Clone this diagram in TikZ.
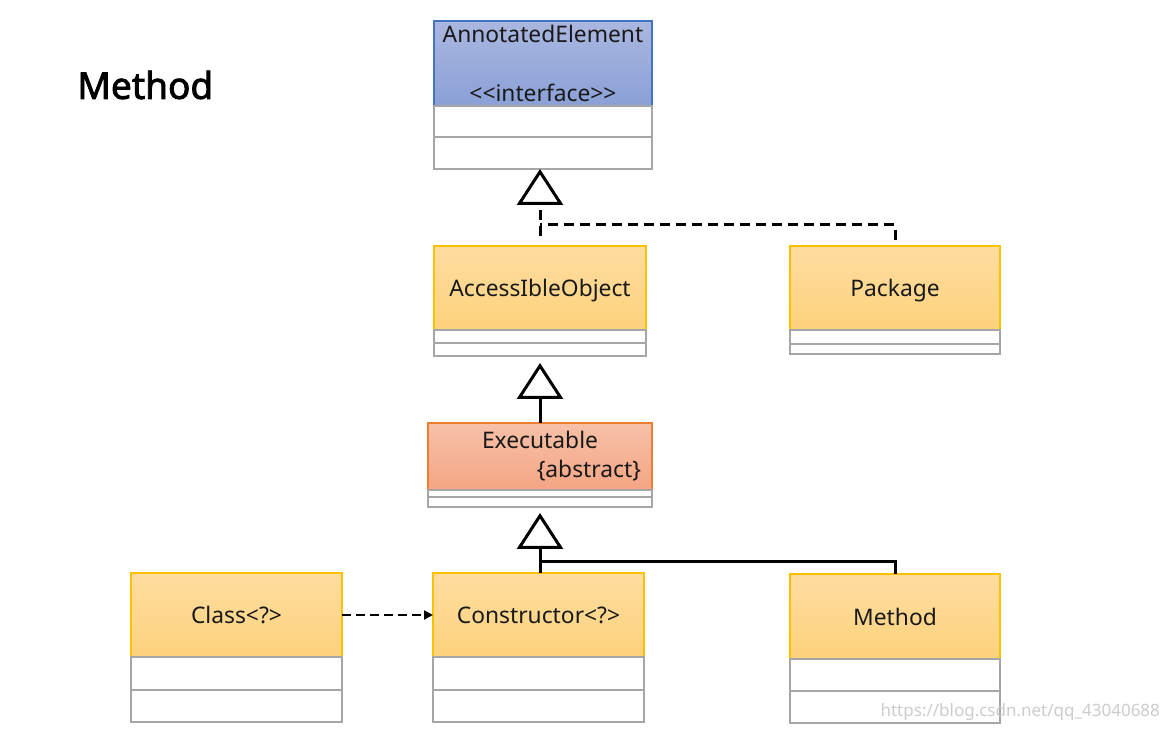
\documentclass[tikz,border=0pt]{standalone}
\usepackage{fontspec}
\setmainfont{Noto Sans}
\newfontfamily\titlefont{Noto Sans}[FakeBold=2.2]
\usetikzlibrary{positioning,arrows.meta}

\definecolor{otop}{HTML}{FEDDA0}
\definecolor{obot}{HTML}{FDD27C}
\definecolor{oline}{HTML}{FFC000}
\definecolor{btop}{HTML}{AAB7E0}
\definecolor{bbot}{HTML}{8AA0D6}
\definecolor{bline}{HTML}{4472C4}
\definecolor{stop}{HTML}{F7C1A8}
\definecolor{sbot}{HTML}{F4A583}
\definecolor{sline}{HTML}{ED7D31}
\definecolor{sectgray}{HTML}{A6A6A6}

\def\pxl{0.5pt}

\tikzset{
  hdr/.style={draw, line width=0.75pt, anchor=north west, inner sep=0pt, outer sep=0pt,
    text depth=0pt, align=center, text=black!90, font=\fontsize{11.4}{13}\selectfont},
  orangehdr/.style={hdr, draw=oline, top color=otop, bottom color=obot},
  bluehdr/.style={hdr, draw=bline, top color=btop, bottom color=bbot},
  salmonhdr/.style={hdr, draw=sline, top color=stop, bottom color=sbot},
  sect/.style={draw=sectgray, line width=0.75pt, inner sep=0pt, outer sep=0pt, fill=white},
  genhead/.style={-{Triangle[open, length=18pt, width=23pt]}},
  gen/.style={line width=1.5pt, genhead},
  realize/.style={line width=1.5pt, dash pattern=on 5pt off 3pt},
  depend/.style={line width=1pt, dash pattern=on 4.5pt off 2.5pt, -{Triangle[length=4.5pt, width=4.5pt]}},
}

\begin{document}
\begin{tikzpicture}[x=0.5pt, y=-0.5pt]
 \useasboundingbox[fill=white] (0,0) rectangle (1175,731);

 \node[font=\titlefont\fontsize{18.5}{22}\selectfont, inner sep=0pt, anchor=west] (title) at (77,85) {Method};

 % AnnotatedElement
 \node[bluehdr, minimum width=218*\pxl, minimum height=85*\pxl] (AE) at (434,21)
   {AnnotatedElement\\[16.5pt]<\kern0pt<interface>\kern0pt>};
 \node[sect, minimum width=218*\pxl, minimum height=31*\pxl, below=0pt of AE] (AE1) {};
 \node[sect, minimum width=218*\pxl, minimum height=32*\pxl, below=0pt of AE1] (AE2) {};

 % AccessibleObject
 \node[orangehdr, minimum width=212*\pxl, minimum height=84*\pxl] (AO) at (434,246) {AccessIbleObject};
 \node[sect, minimum width=212*\pxl, minimum height=13*\pxl, below=0pt of AO] (AO1) {};
 \node[sect, minimum width=212*\pxl, minimum height=13*\pxl, below=0pt of AO1] (AO2) {};

 % Package
 \node[orangehdr, minimum width=210*\pxl, minimum height=84*\pxl] (PK) at (790,246) {Package};
 \node[sect, minimum width=210*\pxl, minimum height=14*\pxl, below=0pt of PK] (PK1) {};
 \node[sect, minimum width=210*\pxl, minimum height=10*\pxl, below=0pt of PK1] (PK2) {};

 % Executable
 \node[salmonhdr, minimum width=224*\pxl, minimum height=67*\pxl, text width=101pt, text depth=,
   font=\fontsize{11.4}{14.5}\selectfont] (EX) at (428,423) {Executable\\ \hfill\{abstract\}};
 \node[sect, minimum width=224*\pxl, minimum height=7*\pxl, below=0pt of EX] (EX1) {};
 \node[sect, minimum width=224*\pxl, minimum height=10*\pxl, below=0pt of EX1] (EX2) {};

 % Class<?>
 \node[orangehdr, minimum width=211*\pxl, minimum height=84*\pxl] (CL) at (131,573) {Class<?>};
 \node[sect, minimum width=211*\pxl, minimum height=33*\pxl, below=0pt of CL] (CL1) {};
 \node[sect, minimum width=211*\pxl, minimum height=32*\pxl, below=0pt of CL1] (CL2) {};

 % Constructor<?>
 \node[orangehdr, minimum width=211*\pxl, minimum height=84*\pxl] (CO) at (433,573) {Constructor<?>};
 \node[sect, minimum width=211*\pxl, minimum height=33*\pxl, below=0pt of CO] (CO1) {};
 \node[sect, minimum width=211*\pxl, minimum height=32*\pxl, below=0pt of CO1] (CO2) {};

 % Method
 \node[orangehdr, minimum width=210*\pxl, minimum height=85*\pxl] (ME) at (790,574) {Method};
 \node[sect, minimum width=210*\pxl, minimum height=32*\pxl, below=0pt of ME] (ME1) {};
 \node[sect, minimum width=210*\pxl, minimum height=32*\pxl, below=0pt of ME1] (ME2) {};

 % connectors
 \coordinate (j1) at (540,225);
 \coordinate (j2) at (540,562);
 \draw[realize] (PK.north) ++(0,-6) |- (j1);
 \draw[realize, genhead] (AO.north) ++(0,-10) -- (AE2.south -| j1);
 \draw[gen, shorten >=3.5pt] (EX.north) -- (AO2.south -| EX.north);
 \draw[gen, shorten >=3pt] (CO.north -| j2) -- (EX2.south -| j2);
 \draw[line width=1.5pt] (ME.north) |- (j2);
 \draw[depend] (CL.east) -- (CO.west);

 \node[font=\fontsize{8.5}{10}\selectfont, text=gray!40, anchor=east] (wm) at (1167,712)
   {https://blog.csdn.net/qq\_43040688};
\end{tikzpicture}
\end{document}
